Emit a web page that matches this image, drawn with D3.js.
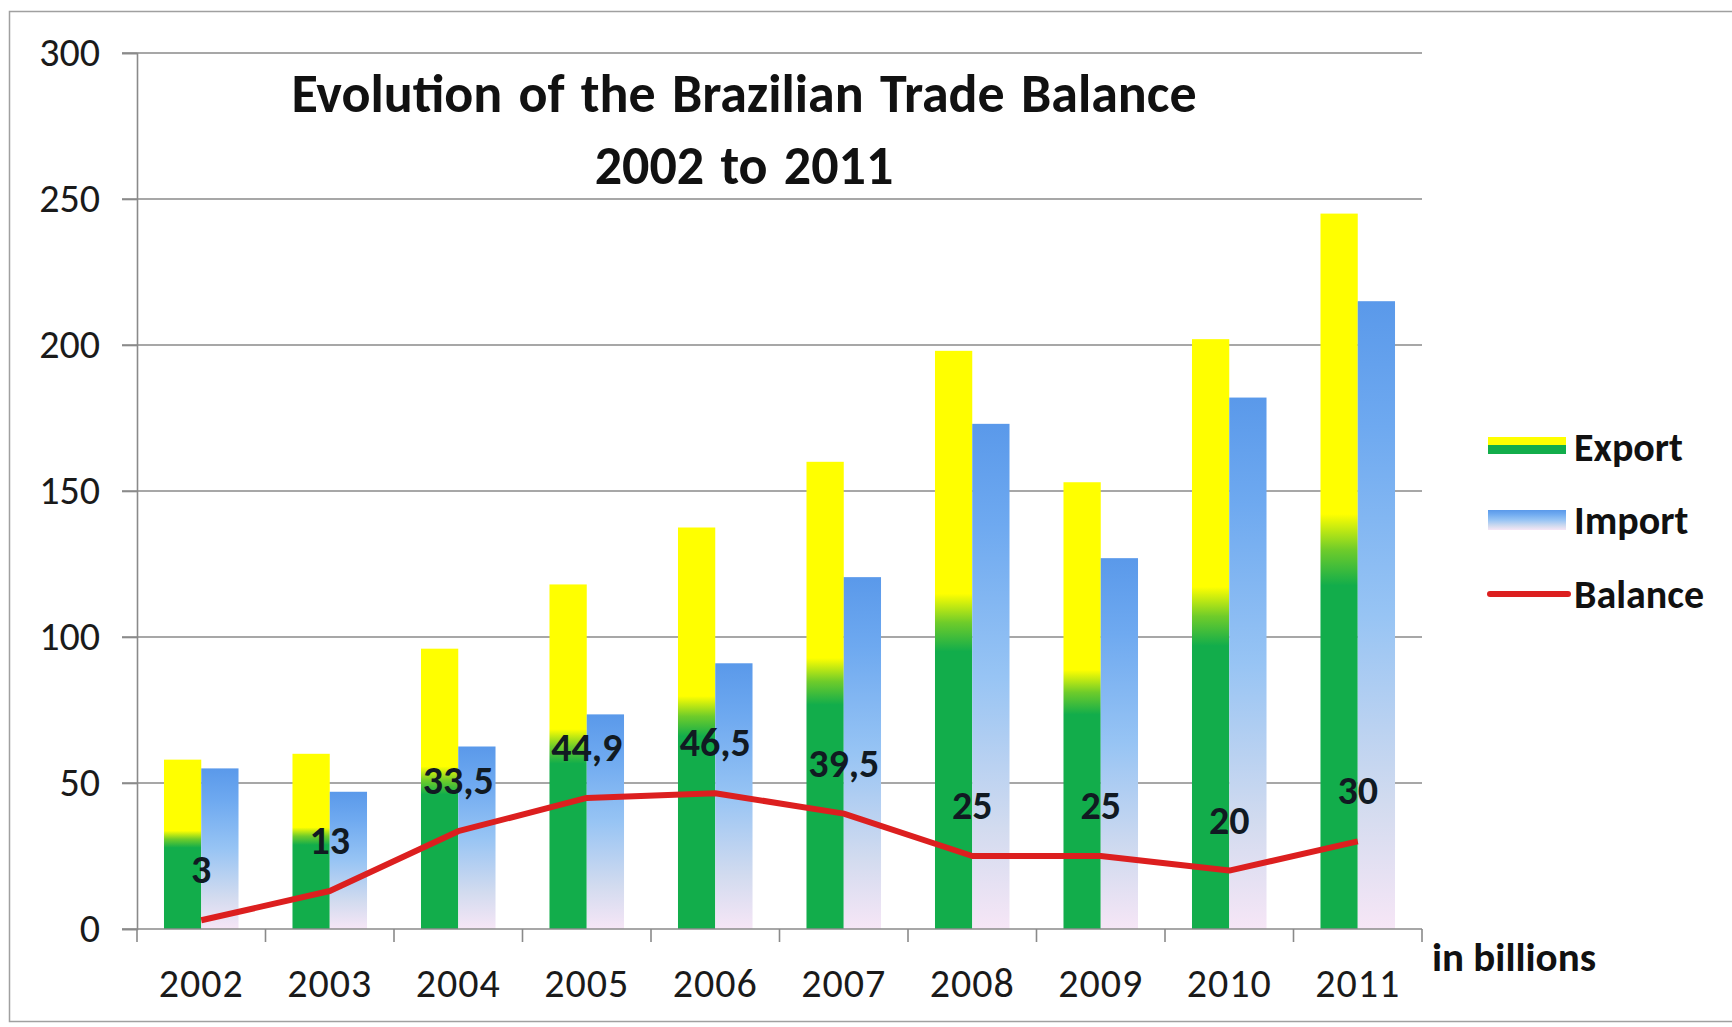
<!DOCTYPE html>
<html>
<head>
<meta charset="utf-8">
<script src="https://cdn.jsdelivr.net/npm/d3@7"></script>
<style>
  html, body { margin: 0; padding: 0; background: #fff; }
  svg { display: block; }
  text { font-family: Carlito, Lato, "Open Sans", sans-serif; }
</style>
</head>
<body>
<svg id="chart" width="1732" height="1027"></svg>
<script>
// Brazilian trade figures, US$ billions
const years = ["2002", "2003", "2004", "2005", "2006", "2007", "2008", "2009", "2010", "2011"];
const exportValues = [58, 60, 96, 118, 137.5, 160, 198, 153, 202, 245];
const importValues = [55, 47, 62.5, 73.5, 91, 120.5, 173, 127, 182, 215];
const balanceValues = [3, 13, 33.5, 44.9, 46.5, 39.5, 25, 25, 20, 30];
const balanceLabels = ["3", "13", "33,5", "44,9", "46,5", "39,5", "25", "25", "20", "30"];
const yTicks = [0, 50, 100, 150, 200, 250, 300];
const seriesNames = ["Export", "Import", "Balance"];
const titleLines = ["Evolution of the Brazilian Trade Balance", "2002 to 2011"];
const unitLabel = "in billions";

const svg = d3.select("#chart");
const plot = { left: 137, right: 1422, top: 53, bottom: 929 };

const x = d3.scaleBand()
  .domain(years)
  .range([plot.left, plot.right])
  .paddingInner(0.42)
  .paddingOuter(0.21);
const xSeries = d3.scaleBand()
  .domain(["export", "import"])
  .range([0, x.bandwidth()])
  .padding(0);
const y = d3.scaleLinear().domain([0, 300]).range([plot.bottom, plot.top]);
const step = x.step();

// gradients
const defs = svg.append("defs");
const gExp = defs.append("linearGradient").attr("id", "gradExport")
  .attr("x1", 0).attr("y1", 1).attr("x2", 0).attr("y2", 0);
[[0, "#12ad4b"], [0.48, "#12ad4b"], [0.53, "#6fcc2a"], [0.58, "#ffff00"], [1, "#ffff00"]]
  .forEach(([o, c]) => gExp.append("stop").attr("offset", o).attr("stop-color", c));
const gImp = defs.append("linearGradient").attr("id", "gradImport")
  .attr("x1", 0).attr("y1", 1).attr("x2", 0).attr("y2", 0);
[[0, "#f6e6f6"], [0.2, "#d2dbef"], [0.5, "#97c4f4"], [0.8, "#6ea9f0"], [1, "#5a99ea"]]
  .forEach(([o, c]) => gImp.append("stop").attr("offset", o).attr("stop-color", c));

// outer frame
svg.append("rect")
  .attr("x", 9.5).attr("y", 11.5).attr("width", 1740).attr("height", 1010)
  .attr("fill", "none").attr("stroke", "#a0a0a0").attr("stroke-width", 1.5);

// horizontal gridlines
svg.append("g").selectAll("line").data(yTicks.filter(d => d > 0)).join("line")
  .attr("x1", plot.left - 15).attr("x2", plot.right)
  .attr("y1", d => y(d)).attr("y2", d => y(d))
  .attr("stroke", "#8a8a8a").attr("stroke-width", 1.6);

// y axis
const yAxis = svg.append("g").attr("transform", `translate(${plot.left},0)`)
  .call(d3.axisLeft(y).tickValues(yTicks).tickSize(15).tickPadding(22));
yAxis.select(".domain").attr("stroke", "#8a8a8a").attr("stroke-width", 1.6);
yAxis.selectAll(".tick line").attr("stroke", "#8a8a8a").attr("stroke-width", 1.6);
yAxis.selectAll(".tick text")
  .attr("fill", "#1a1a1a").style("font-size", "40px")
  .style("font-family", "Carlito, Lato, sans-serif");

// bars
const groups = svg.append("g").selectAll("g").data(years).join("g")
  .attr("transform", d => `translate(${x(d)},0)`);
groups.append("rect")
  .attr("x", xSeries("export"))
  .attr("width", xSeries.bandwidth())
  .attr("y", (d, i) => y(exportValues[i]))
  .attr("height", (d, i) => y(0) - y(exportValues[i]))
  .attr("fill", "url(#gradExport)");
groups.append("rect")
  .attr("x", xSeries("import"))
  .attr("width", xSeries.bandwidth())
  .attr("y", (d, i) => y(importValues[i]))
  .attr("height", (d, i) => y(0) - y(importValues[i]))
  .attr("fill", "url(#gradImport)");

// x axis: ticks fall on category boundaries
const boundaries = d3.range(years.length + 1).map(i => plot.left + i * step);
svg.append("line")
  .attr("x1", plot.left - 15).attr("x2", plot.right)
  .attr("y1", y(0)).attr("y2", y(0))
  .attr("stroke", "#8a8a8a").attr("stroke-width", 1.6);
svg.append("g").selectAll("line").data(boundaries).join("line")
  .attr("x1", d => d).attr("x2", d => d)
  .attr("y1", y(0)).attr("y2", y(0) + 13)
  .attr("stroke", "#8a8a8a").attr("stroke-width", 1.6);
svg.append("g").selectAll("text").data(years).join("text")
  .attr("x", d => x(d) + x.bandwidth() / 2)
  .attr("y", 983)
  .attr("dy", "0.35em")
  .attr("text-anchor", "middle")
  .attr("fill", "#1a1a1a")
  .style("font-size", "40px")
  .style("letter-spacing", "1px")
  .text(d => d);

// balance line
const cx = i => x(years[i]) + x.bandwidth() / 2;
const line = d3.line()
  .x((d, i) => cx(i))
  .y(d => y(d))
  .curve(d3.curveLinear);
svg.append("path")
  .datum(balanceValues)
  .attr("d", line)
  .attr("fill", "none")
  .attr("stroke", "#dc1f1f")
  .attr("stroke-width", 6)
  .attr("stroke-linejoin", "round");

// balance value labels
svg.append("g").selectAll("text").data(balanceValues).join("text")
  .attr("x", (d, i) => cx(i))
  .attr("y", d => y(d) - 51)
  .attr("dy", "0.35em")
  .attr("text-anchor", "middle")
  .attr("fill", "#111a22")
  .style("font-size", "40px")
  .style("font-weight", "bold")
  .text((d, i) => balanceLabels[i]);

// unit label
svg.append("text")
  .attr("x", 1432).attr("y", 957).attr("dy", "0.35em")
  .attr("fill", "#111")
  .style("font-size", "41px").style("font-weight", "bold")
  .text(unitLabel);

// title
svg.append("g").selectAll("text").data(titleLines).join("text")
  .attr("x", 744)
  .attr("y", (d, i) => 93 + i * 72)
  .attr("dy", "0.35em")
  .attr("text-anchor", "middle")
  .attr("fill", "#111")
  .style("font-size", "54px").style("font-weight", "bold")
  .style("word-spacing", "4px")
  .text(d => d);

// legend
const legend = svg.append("g").attr("transform", "translate(1488,0)");
const legendY = [447, 520, 594];
const lgExp = legend.append("g");
lgExp.append("rect").attr("x", 0).attr("y", legendY[0] - 10).attr("width", 78).attr("height", 9).attr("fill", "#ffff00");
lgExp.append("rect").attr("x", 0).attr("y", legendY[0] - 2).attr("width", 78).attr("height", 9).attr("fill", "#12ad4b");
legend.append("rect").attr("x", 0).attr("y", legendY[1] - 10).attr("width", 78).attr("height", 20)
  .attr("fill", "url(#gradImport)");
legend.append("line").attr("x1", 2).attr("x2", 80).attr("y1", legendY[2]).attr("y2", legendY[2])
  .attr("stroke", "#dc1f1f").attr("stroke-width", 6).attr("stroke-linecap", "round");
legend.selectAll("text.lbl").data(seriesNames).join("text")
  .attr("class", "lbl")
  .attr("x", 86)
  .attr("y", (d, i) => legendY[i])
  .attr("dy", "0.35em")
  .attr("fill", "#111")
  .style("font-size", "40px").style("font-weight", "bold")
  .text(d => d);
</script>
</body>
</html>
